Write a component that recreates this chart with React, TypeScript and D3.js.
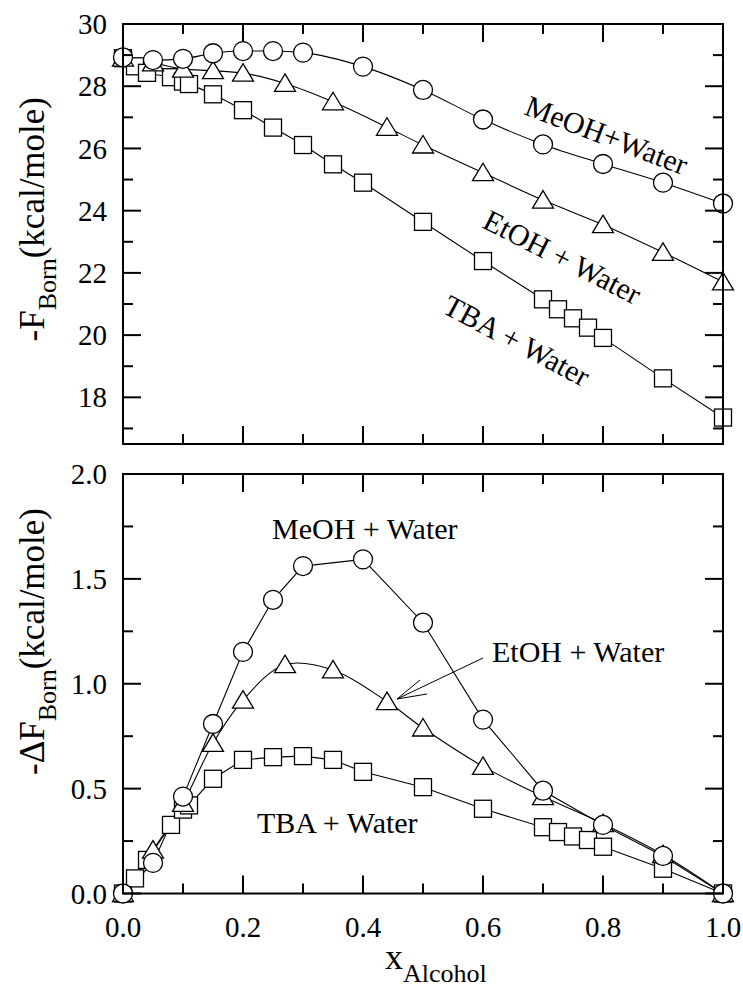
import React from "react";
import * as d3 from "d3";

// ---------- data ----------
const xMeOH = [0, 0.05, 0.1, 0.15, 0.2, 0.25, 0.3, 0.4, 0.5, 0.6, 0.7, 0.8, 0.9, 1.0];
const fMeOH = [28.93, 28.84, 28.88, 29.06, 29.13, 29.13, 29.08, 28.63, 27.88, 26.93, 26.13, 25.5, 24.9, 24.23];
const dMeOH = [0, 0.146, 0.462, 0.808, 1.152, 1.4, 1.561, 1.593, 1.291, 0.829, 0.49, 0.327, 0.179, 0];

const xEtOH = [0, 0.05, 0.1, 0.15, 0.2, 0.27, 0.35, 0.44, 0.5, 0.6, 0.7, 0.8, 0.9, 1.0];
const fEtOH = [28.9, 28.75, 28.55, 28.5, 28.42, 28.09, 27.5, 26.68, 26.11, 25.22, 24.34, 23.55, 22.66, 21.71];
const dEtOH = [0, 0.207, 0.43, 0.716, 0.922, 1.091, 1.066, 0.915, 0.789, 0.606, 0.462, 0.333, 0.185, 0];

const xTBA = [0, 0.02, 0.04, 0.08, 0.1, 0.11, 0.15, 0.2, 0.25, 0.3, 0.35, 0.4, 0.5, 0.6, 0.7, 0.725, 0.75, 0.775, 0.8, 0.9, 1.0];
const fTBA = [28.9, 28.64, 28.43, 28.29, 28.15, 28.07, 27.74, 27.23, 26.67, 26.11, 25.49, 24.9, 23.64, 22.38, 21.15, 20.83, 20.54, 20.24, 19.91, 18.61, 17.35];
const dTBA = [0, 0.072, 0.16, 0.327, 0.4, 0.42, 0.547, 0.637, 0.65, 0.655, 0.637, 0.58, 0.507, 0.404, 0.316, 0.293, 0.272, 0.255, 0.223, 0.118, 0];

const xMajorTicks = [0, 0.2, 0.4, 0.6, 0.8, 1.0];
const xMinorTicks = [0.1, 0.3, 0.5, 0.7, 0.9];
const xTickLabels = ["0.0", "0.2", "0.4", "0.6", "0.8", "1.0"];
const topMajorTicks = [18, 20, 22, 24, 26, 28, 30];
const topMinorTicks = [17, 19, 21, 23, 25, 27, 29];
const topTickLabels = ["18", "20", "22", "24", "26", "28", "30"];
const botMajorTicks = [0, 0.5, 1.0, 1.5, 2.0];
const botMinorTicks = [0.25, 0.75, 1.25, 1.75];
const botTickLabels = ["0.0", "0.5", "1.0", "1.5", "2.0"];

// ---------- layout ----------
const W = 743, H = 988;
const L = 123, R = 723;
const topT = 24, topB = 444;
const botT = 474, botB = 893.5;
const FONT = '"Liberation Serif", "Times New Roman", Times, "DejaVu Serif", serif';
const TS = { fontFamily: FONT };

const x = d3.scaleLinear().domain([0, 1]).range([L, R]);
const yTop = d3.scaleLinear().domain([16.5, 30]).range([topB, topT]);
const yBot = d3.scaleLinear().domain([0, 2]).range([botB, botT]);

type Pt = [number, number];
const zip = (xs: number[], ys: number[]): Pt[] => xs.map((v, i) => [v, ys[i]]);

function Marker({ kind, cx, cy }: { kind: string; cx: number; cy: number }) {
  const st = { fill: "#fff", stroke: "#000", strokeWidth: 1.3 };
  if (kind === "circle") return <circle cx={cx} cy={cy} r={9.5} {...st} />;
  if (kind === "square") return <rect x={cx - 8.5} y={cy - 8.5} width={17} height={17} {...st} />;
  return <polygon points={`${cx},${cy - 9.5} ${cx + 10.5},${cy + 8} ${cx - 10.5},${cy + 8}`} {...st} />;
}

function Panel({ y, top, bottom, majors, minors, labels, series }: any) {
  return (
    <g>
      {series.map((s: any, i: number) => {
        const line = d3.line<Pt>().x((d) => x(d[0])).y((d) => y(d[1])).curve(s.curve);
        return <path key={"l" + i} d={line(s.pts) || ""} fill="none" stroke="#000" strokeWidth={1.1} />;
      })}
      {series.map((s: any, i: number) => (
        <g key={"m" + i}>
          {s.pts.map((p: Pt, j: number) => (
            <Marker key={j} kind={s.kind} cx={x(p[0])} cy={y(p[1])} />
          ))}
        </g>
      ))}
      {xMajorTicks.map((t, i) => (
        <g key={"xm" + i}>
          <line x1={x(t)} x2={x(t)} y1={bottom} y2={bottom - 18} stroke="#000" strokeWidth={2} />
          <line x1={x(t)} x2={x(t)} y1={top} y2={top + 18} stroke="#000" strokeWidth={2} />
        </g>
      ))}
      {xMinorTicks.map((t, i) => (
        <g key={"xn" + i}>
          <line x1={x(t)} x2={x(t)} y1={bottom} y2={bottom - 10} stroke="#000" strokeWidth={2} />
          <line x1={x(t)} x2={x(t)} y1={top} y2={top + 10} stroke="#000" strokeWidth={2} />
        </g>
      ))}
      {majors.map((t: number, i: number) => (
        <g key={"ym" + i}>
          <line x1={L} x2={L + 18} y1={y(t)} y2={y(t)} stroke="#000" strokeWidth={2} />
          <line x1={R} x2={R - 18} y1={y(t)} y2={y(t)} stroke="#000" strokeWidth={2} />
          <text x={107} y={y(t)} dy="0.35em" textAnchor="end" fontSize={29} style={TS}>
            {labels[i]}
          </text>
        </g>
      ))}
      {minors.map((t: number, i: number) => (
        <g key={"yn" + i}>
          <line x1={L} x2={L + 10} y1={y(t)} y2={y(t)} stroke="#000" strokeWidth={2} />
          <line x1={R} x2={R - 10} y1={y(t)} y2={y(t)} stroke="#000" strokeWidth={2} />
        </g>
      ))}
      <rect x={L} y={top} width={R - L} height={bottom - top} fill="none" stroke="#000" strokeWidth={2} />
    </g>
  );
}

export default function App() {
  const topSeries = [
    { kind: "square", pts: zip(xTBA, fTBA), curve: d3.curveMonotoneX },
    { kind: "triangle", pts: zip(xEtOH, fEtOH), curve: d3.curveMonotoneX },
    { kind: "circle", pts: zip(xMeOH, fMeOH), curve: d3.curveMonotoneX },
  ];
  const botSeries = [
    { kind: "square", pts: zip(xTBA, dTBA), curve: d3.curveLinear },
    { kind: "triangle", pts: zip(xEtOH, dEtOH), curve: d3.curveCatmullRom.alpha(0.5) },
    { kind: "circle", pts: zip(xMeOH, dMeOH), curve: d3.curveLinear },
  ];
  return (
    <svg width={W} height={H} style={{ position: "absolute", left: 0, top: 0, background: "#fff", fontFamily: FONT }}>
      <rect x={0} y={0} width={W} height={H} fill="#fff" />
      <Panel y={yTop} top={topT} bottom={topB} majors={topMajorTicks} minors={topMinorTicks} labels={topTickLabels} series={topSeries} />
      <Panel y={yBot} top={botT} bottom={botB} majors={botMajorTicks} minors={botMinorTicks} labels={botTickLabels} series={botSeries} />

      {xMajorTicks.map((t, i) => (
        <text key={i} x={x(t)} y={937} textAnchor="middle" fontSize={29} style={TS}>
          {xTickLabels[i]}
        </text>
      ))}
      <text x={385} y={969} fontSize={36} style={TS}>
        x<tspan fontSize={26} dy={13}>Alcohol</tspan>
      </text>

      <text transform="translate(44,97) rotate(-90)" textAnchor="end" fontSize={35} style={TS}>
        -F<tspan fontSize={26} dy={12}>Born</tspan>
        <tspan dy={-12}>(kcal/mole)</tspan>
      </text>
      <text transform="translate(44,508) rotate(-90)" textAnchor="end" fontSize={35} style={TS}>
        -ΔF<tspan fontSize={26} dy={12}>Born</tspan>
        <tspan dy={-12}>(kcal/mole)</tspan>
      </text>

      <text transform="translate(523,114) rotate(21)" fontSize={30} style={TS}>MeOH+Water</text>
      <text transform="translate(481,227) rotate(27)" fontSize={30} style={TS}>EtOH + Water</text>
      <text transform="translate(441,312) rotate(28)" fontSize={30} style={TS}>TBA + Water</text>

      <text x={272} y={539} fontSize={30} style={TS}>MeOH + Water</text>
      <text x={492} y={662} fontSize={30} style={TS}>EtOH + Water</text>
      <text x={257} y={833} fontSize={30} style={TS}>TBA + Water</text>
      <g stroke="#000" strokeWidth={1} fill="none">
        <line x1={483} y1={658} x2={397} y2={699} />
        <line x1={397} y1={699} x2={420} y2={680} />
        <line x1={397} y1={699} x2={427} y2={694} />
      </g>
    </svg>
  );
}
